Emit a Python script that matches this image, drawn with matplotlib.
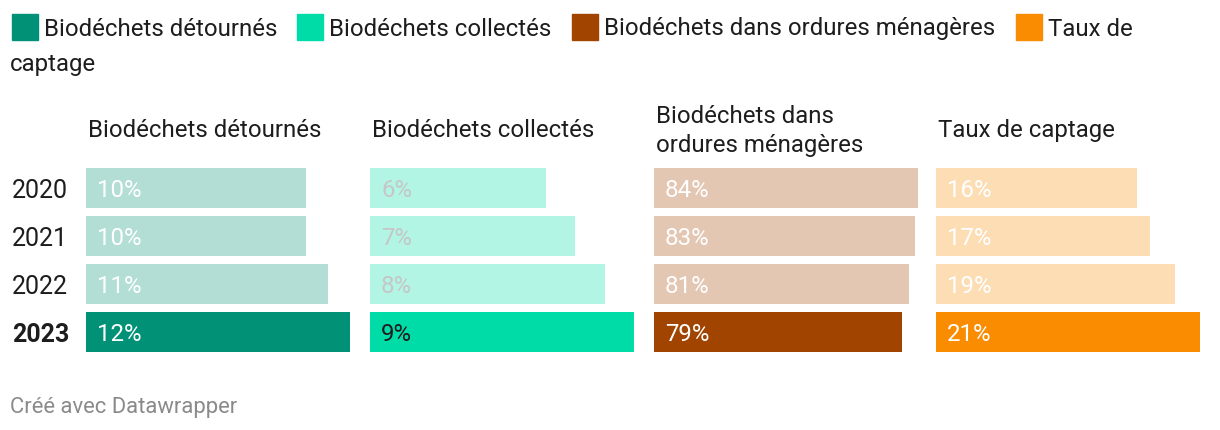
import matplotlib.pyplot as plt
from matplotlib.colors import to_rgb
from matplotlib.patches import Rectangle

plt.rcParams['font.family'] = ['Roboto', 'DejaVu Sans']

years = ["2020", "2021", "2022", "2023"]
series = ["Biodéchets détournés", "Biodéchets collectés",
          "Biodéchets dans ordures ménagères", "Taux de captage"]
titles = ["Biodéchets détournés", "Biodéchets collectés",
          "Biodéchets dans\nordures ménagères", "Taux de captage"]
detournes = [10, 10, 11, 12]
collectes = [6, 7, 8, 9]
ordures = [84, 83, 81, 79]
captage = [16, 17, 19, 21]
colors = ["#009177", "#00dca8", "#a04400", "#f98c00"]

values = [detournes, collectes, ordures, captage]
W, H = 1220, 430
fig = plt.figure(figsize=(W / 100, H / 100), dpi=100)
txt = "#1d1d1d"


def fx(px):
    return px / W


def fy(py):
    return 1 - py / H


def light(c, a=0.3):
    return tuple(1 - a * (1 - v) for v in to_rgb(c))


# legend (Datawrapper style, wraps onto a second line)
leg_x = [12, 297, 572, 1016]
for i, (x, name) in enumerate(zip(leg_x, series)):
    fig.patches.append(Rectangle((fx(x), fy(40)), fx(26), 26 / H,
                                 color=colors[i], transform=fig.transFigure))
    label = "Taux de" if i == 3 else name
    fig.text(fx(x + 32), fy(26.5), label, fontsize=17.3, color=txt, va="center_baseline")
fig.text(fx(10), fy(62), "captage", fontsize=17.3, color=txt, va="center_baseline")

lefts = [86, 370, 654, 936]
for i, vals in enumerate(values):
    ax = fig.add_axes([fx(lefts[i]), fy(352), fx(264), 184 / H])
    bar_cols = [light(colors[i])] * 3 + [colors[i]]
    ax.barh(range(len(years)), vals, height=0.833, color=bar_cols)
    ax.set_xlim(0, max(vals))
    ax.set_ylim(3.4167, -0.4167)
    ax.axis("off")
    for j, v in enumerate(vals):
        if i == 1:
            c = txt if j == 3 else "#c6c6c6"
        else:
            c = "white"
        ax.annotate(f"{v}%", (0, j), xytext=(8, 0), textcoords="offset points",
                    va="center_baseline", ha="left", fontsize=17.3, color=c)
    fig.text(fx(lefts[i] + 2), fy(131), titles[i], fontsize=17.3, color=txt,
             va="center", ha="left", linespacing=1.28)

for j, y in enumerate(years):
    fig.text(fx(12), fy(188 + 48 * j), y, fontsize=18, color=txt,
             va="center_baseline", fontweight="bold" if j == 3 else "normal")

fig.text(fx(10), fy(405), "Créé avec Datawrapper", fontsize=15.8, color="#8a8a8a",
         va="center_baseline")

fig.savefig("out.png", dpi=100)
